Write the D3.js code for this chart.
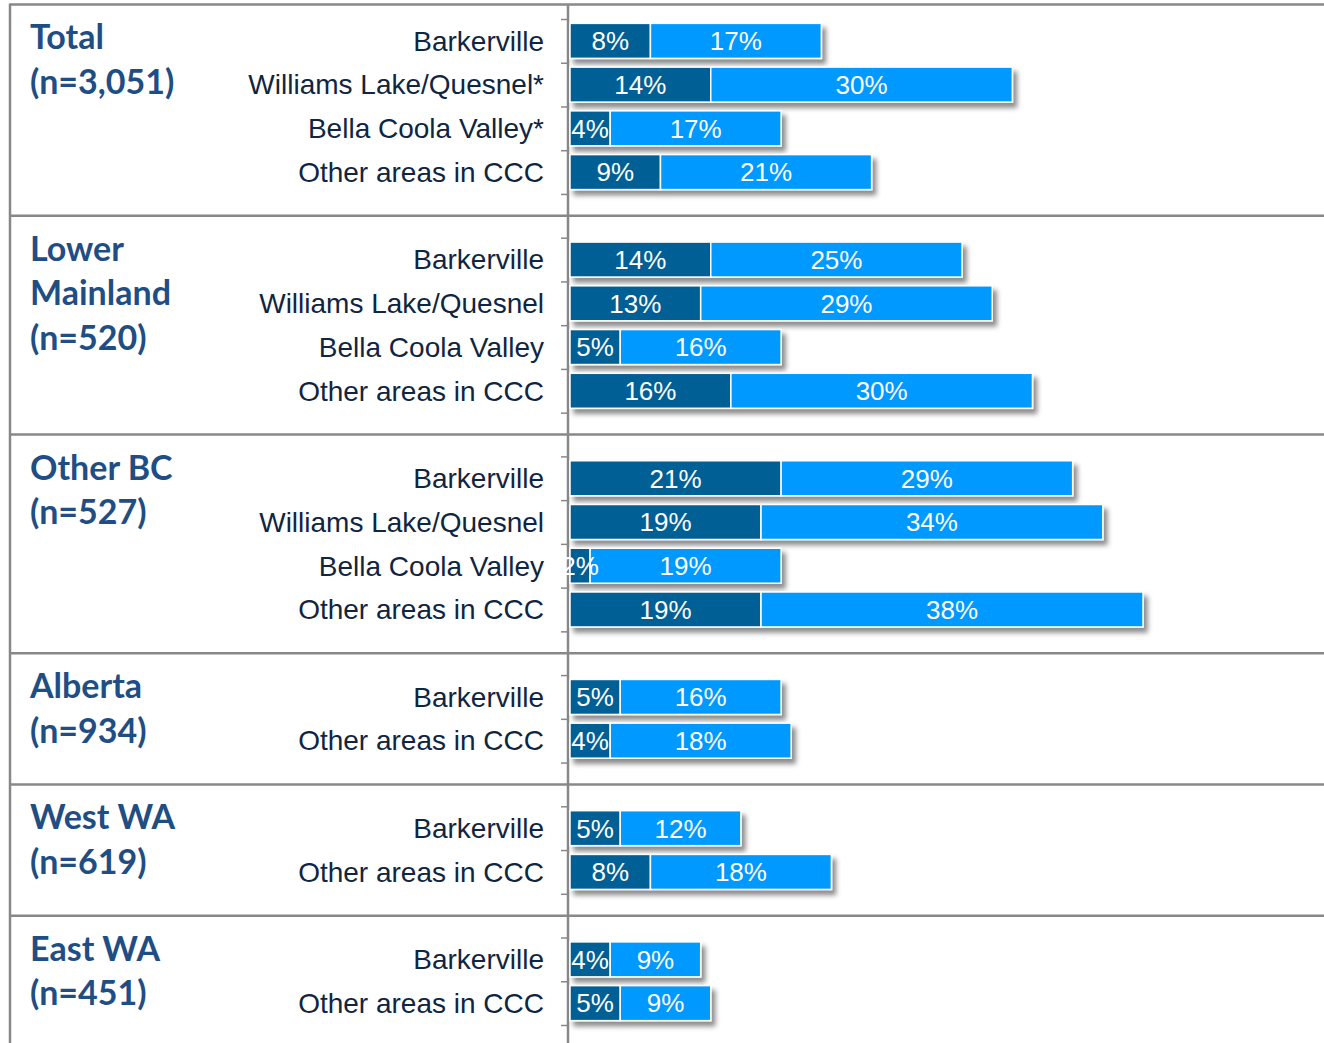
<!DOCTYPE html>
<html lang="en">
<head>
    <meta charset="UTF-8">
    <title>Visited areas by origin</title>
    <script src="https://cdn.jsdelivr.net/npm/d3@7"></script>
    <style>
        body{
            margin: 0;
            background: white;
        }
        .groupLabel{
            font-family: Lato, "Open Sans", sans-serif;
            font-weight: bold;
            font-size: 34px;
            fill: #1f4e84;
        }
        .rowLabel{
            font-family: "Liberation Sans", Arial, sans-serif;
            font-size: 28px;
            fill: #10253f;
        }
        .valueLabel{
            font-family: "Liberation Sans", Arial, sans-serif;
            font-size: 26px;
            fill: white;
        }
        .frame{
            stroke: #888888;
            stroke-width: 2.5;
        }
        .yAxis .tick line{
            stroke: #888888;
            stroke-width: 1.5;
        }
        .yAxis path{
            stroke: none;
        }
    </style>
</head>
<body>
<svg id="main" width="1324" height="1043"></svg>
<script>
    const width = 1324, height = 1043;

    // Data
    const groupLabels = [
        ["Total", "(n=3,051)"],
        ["Lower", "Mainland", "(n=520)"],
        ["Other BC", "(n=527)"],
        ["Alberta", "(n=934)"],
        ["West WA", "(n=619)"],
        ["East WA", "(n=451)"]
    ];
    const rowLabels = [
        ["Barkerville", "Williams Lake/Quesnel*", "Bella Coola Valley*", "Other areas in CCC"],
        ["Barkerville", "Williams Lake/Quesnel", "Bella Coola Valley", "Other areas in CCC"],
        ["Barkerville", "Williams Lake/Quesnel", "Bella Coola Valley", "Other areas in CCC"],
        ["Barkerville", "Other areas in CCC"],
        ["Barkerville", "Other areas in CCC"],
        ["Barkerville", "Other areas in CCC"]
    ];
    const darkValues = [
        [8, 14, 4, 9],
        [14, 13, 5, 16],
        [21, 19, 2, 19],
        [5, 4],
        [5, 8],
        [4, 5]
    ];
    const lightValues = [
        [17, 30, 17, 21],
        [25, 29, 16, 30],
        [29, 34, 19, 38],
        [16, 18],
        [12, 18],
        [9, 9]
    ];
    const colors = ["#016096", "#0099ff"];

    // build the row slots, with one empty slot between groups
    const slots = [];
    groupLabels.forEach((g, gi) => {
        if (gi > 0) slots.push({key: "gap" + gi, gap: true, group: gi});
        rowLabels[gi].forEach((r, ri) => {
            slots.push({key: gi + "-" + ri, gap: false, group: gi, first: ri === 0,
                label: r, dark: darkValues[gi][ri], light: lightValues[gi][ri]});
        });
    });

    const xScale = d3.scaleLinear().domain([0, 75]).range([570, 1324]);
    const yScale = d3.scaleBand()
        .domain(slots.map(d => d.key))
        .range([19, 1025])
        .paddingInner(0.2)
        .paddingOuter(0.1);
    const step = yScale.step();
    const slotTop = key => yScale(key) - step * 0.1;

    const svg = d3.select("svg#main");

    const defs = svg.append("defs");
    defs.append("filter")
        .attr("id", "shadow")
        .attr("x", "-5%").attr("y", "-20%")
        .attr("width", "120%").attr("height", "160%")
        .append("feDropShadow")
        .attr("dx", 4).attr("dy", 5)
        .attr("stdDeviation", 2.5)
        .attr("flood-color", "#000")
        .attr("flood-opacity", 0.45);

    // frame lines: top border, then one line in the middle of every gap slot
    const frame = svg.append("g");
    const topY = slotTop(slots[0].key) - step / 3;
    const separators = slots.filter(d => d.gap).map(d => slotTop(d.key) + step / 2);
    const frameLines = [topY].concat(separators);
    frame.selectAll(".sep")
        .data(frameLines)
        .join("line")
        .attr("class", "frame sep")
        .attr("x1", 10).attr("x2", width)
        .attr("y1", d => d).attr("y2", d => d);
    frame.append("line").attr("class", "frame")
        .attr("x1", 10).attr("x2", 10).attr("y1", topY - 1).attr("y2", height);
    frame.append("line").attr("class", "frame")
        .attr("x1", 568).attr("x2", 568).attr("y1", topY).attr("y2", height);

    // category axis ticks at slot boundaries
    const boundary = d3.scaleLinear()
        .domain([0, slots.length])
        .range([slotTop(slots[0].key), slotTop(slots[0].key) + step * slots.length]);
    svg.append("g")
        .attr("class", "yAxis")
        .attr("transform", `translate(568,0)`)
        .call(d3.axisLeft(boundary)
            .tickValues(d3.range(slots.length + 1))
            .tickFormat("")
            .tickSize(7)
            .tickSizeOuter(0));

    // group labels, hung below the frame line above each group
    svg.selectAll(".groupLabel")
        .data(groupLabels)
        .join("text")
        .attr("class", "groupLabel")
        .attr("y", (d, i) => frameLines[i] + 45)
        .selectAll("tspan")
        .data(d => d)
        .join("tspan")
        .attr("x", 30)
        .attr("dy", (d, i) => i === 0 ? 0 : 44.5)
        .text(d => d);

    const rows = slots.filter(d => !d.gap);

    // row labels
    svg.selectAll(".rowLabel")
        .data(rows)
        .join("text")
        .attr("class", "rowLabel")
        .attr("x", 544)
        .attr("y", d => yScale(d.key) + yScale.bandwidth() / 2)
        .attr("dy", "0.35em")
        .attr("text-anchor", "end")
        .text(d => d.label);

    // bars
    const bars = svg.append("g").selectAll(".bar")
        .data(rows)
        .join("g")
        .attr("class", "bar")
        .attr("filter", "url(#shadow)");
    bars.append("rect")
        .attr("x", xScale(0))
        .attr("y", d => yScale(d.key))
        .attr("width", d => xScale(d.dark) - xScale(0))
        .attr("height", yScale.bandwidth())
        .attr("fill", colors[0])
        .attr("stroke", "white")
        .attr("stroke-width", 1.5);
    bars.append("rect")
        .attr("x", d => xScale(d.dark))
        .attr("y", d => yScale(d.key))
        .attr("width", d => xScale(d.dark + d.light) - xScale(d.dark))
        .attr("height", yScale.bandwidth())
        .attr("fill", colors[1])
        .attr("stroke", "white")
        .attr("stroke-width", 1.5);

    // value labels
    const labels = svg.append("g");
    labels.selectAll(".darkLabel")
        .data(rows)
        .join("text")
        .attr("class", "valueLabel")
        .attr("x", d => (xScale(0) + xScale(d.dark)) / 2)
        .attr("y", d => yScale(d.key) + yScale.bandwidth() / 2)
        .attr("dy", "0.36em")
        .attr("text-anchor", "middle")
        .text(d => d.dark + "%");
    labels.selectAll(".lightLabel")
        .data(rows)
        .join("text")
        .attr("class", "valueLabel")
        .attr("x", d => (xScale(d.dark) + xScale(d.dark + d.light)) / 2)
        .attr("y", d => yScale(d.key) + yScale.bandwidth() / 2)
        .attr("dy", "0.36em")
        .attr("text-anchor", "middle")
        .text(d => d.light + "%");
</script>
</body>
</html>
